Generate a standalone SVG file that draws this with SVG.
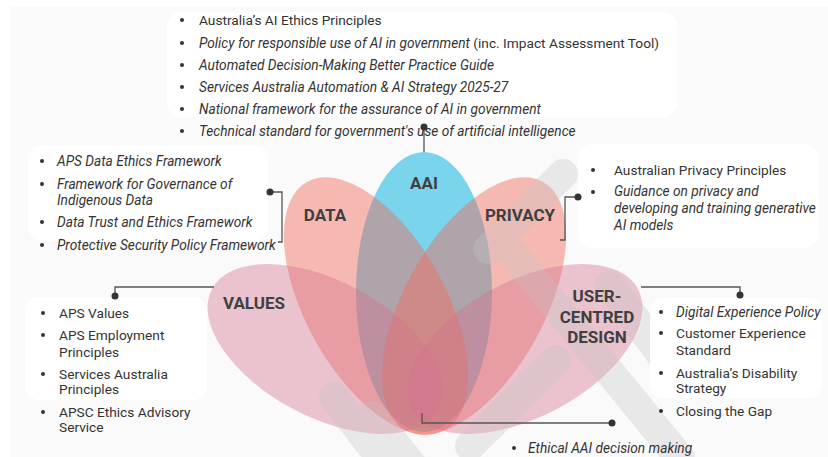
<svg xmlns="http://www.w3.org/2000/svg" width="828" height="457" viewBox="0 0 828 457">
  <style>
    .item { font-family: Roboto, "Liberation Sans", sans-serif; font-size: 13.7px; fill: #333333; }
    .it { font-style: italic; }
    .label { font-family: Roboto, "Liberation Sans", sans-serif; font-size: 17px; font-weight: bold; fill: #3f3f3f; text-anchor: middle; }
    .box { fill: #ffffff; }
    .wire { fill: none; stroke: #555555; stroke-width: 1.3; }
    .dot { fill: #333333; }
    .mark { fill: none; stroke: #c4c4c4; stroke-width: 30; stroke-linecap: round; }
  </style>
  <defs>
    <g id="bul"><circle r="2" cx="0" cy="0" fill="#333333"/></g>
  </defs>

  <!-- page -->
  <rect width="828" height="457" fill="#ffffff"/>
  <rect x="10" y="7" width="818" height="450" fill="#fafafa"/>

  <!-- petals -->
  <g id="petal-aai">
    <ellipse cx="424" cy="292" rx="68" ry="140" fill="#79d4ec"/>
  </g>
  <g id="petal-data">
    <ellipse cx="376" cy="306" rx="70" ry="142" transform="rotate(-29 376 306)" fill="#f26b5b" fill-opacity="0.45"/>
  </g>
  <g id="petal-privacy">
    <ellipse cx="474" cy="306" rx="70" ry="142" transform="rotate(29 474 306)" fill="#f26b5b" fill-opacity="0.45"/>
  </g>
  <g id="petal-values">
    <ellipse cx="325" cy="349" rx="128" ry="68" transform="rotate(28 325 349)" fill="#d4708e" fill-opacity="0.4"/>
  </g>
  <g id="petal-ucd">
    <ellipse cx="525" cy="349" rx="128" ry="68" transform="rotate(-28 525 349)" fill="#d4708e" fill-opacity="0.4"/>
  </g>

  <!-- translucent emblem strokes over the petals -->
  <g id="emblem" opacity="0.32">
    <line class="mark" x1="563" y1="174" x2="488" y2="249"/>
    <line class="mark" x1="500" y1="238" x2="680" y2="458"/>
    <line class="mark" x1="556" y1="360" x2="470" y2="446"/>
    <line class="mark" x1="334" y1="397" x2="390" y2="470"/>
    <line class="mark" x1="372" y1="416" x2="420" y2="475"/>
    <line class="mark" x1="610" y1="285" x2="680" y2="380"/>
  </g>

  <!-- text panels -->
  <rect class="box" x="167" y="12" width="510" height="105" rx="14"/>
  <rect class="box" x="28" y="145" width="240" height="96" rx="14"/>
  <rect class="box" x="578" y="144" width="240" height="104" rx="14"/>
  <rect class="box" x="25" y="297" width="182" height="103" rx="14"/>
  <rect class="box" x="650" y="298" width="172" height="100" rx="14"/>

  <!-- petal labels -->
  <text class="label" x="424" y="189">AAI</text>
  <text class="label" x="325" y="221">DATA</text>
  <text class="label" x="520" y="221">PRIVACY</text>
  <text class="label" x="254" y="309">VALUES</text>
  <text class="label" x="597" y="302">USER-</text>
  <text class="label" x="597" y="323">CENTRED</text>
  <text class="label" x="597" y="343">DESIGN</text>

  <!-- connectors -->
  <g id="connectors">
    <path class="wire" d="M424,127 V152"/>
    <circle class="dot" cx="424" cy="127" r="3.5"/>
    <path class="wire" d="M270,192 H282 V242 H278"/>
    <circle class="dot" cx="270" cy="192" r="3.5"/>
    <path class="wire" d="M578,197 H565 V240 H560"/>
    <circle class="dot" cx="578" cy="197" r="3.5"/>
    <path class="wire" d="M115,296 V287 H214"/>
    <circle class="dot" cx="115" cy="296" r="3.5"/>
    <path class="wire" d="M641,287 H740 V295"/>
    <circle class="dot" cx="740" cy="295" r="3.5"/>
    <path class="wire" d="M422,413 V423 H612"/>
    <circle class="dot" cx="612" cy="423" r="3.5"/>
  </g>

  <!-- AAI list -->
  <g id="list-aai">
    <use href="#bul" x="182" y="20"/>
    <text class="item" x="199" y="25">Australia’s AI Ethics Principles</text>
    <use href="#bul" x="182" y="43"/>
    <text class="item" x="199" y="48"><tspan class="it">Policy for responsible use of AI in government</tspan> (inc. Impact Assessment Tool)</text>
    <use href="#bul" x="182" y="65"/>
    <text class="item it" x="199" y="70">Automated Decision-Making Better Practice Guide</text>
    <use href="#bul" x="182" y="87"/>
    <text class="item it" x="199" y="92">Services Australia Automation &amp; AI Strategy 2025-27</text>
    <use href="#bul" x="182" y="109"/>
    <text class="item it" x="199" y="114">National framework for the assurance of AI in government</text>
    <use href="#bul" x="182" y="131"/>
    <text class="item it" x="199" y="136">Technical standard for government's use of artificial intelligence</text>
  </g>

  <!-- DATA list -->
  <g id="list-data">
    <use href="#bul" x="42" y="161"/>
    <text class="item it" x="57" y="166">APS Data Ethics Framework</text>
    <use href="#bul" x="42" y="184"/>
    <text class="item it" x="57" y="189">Framework for Governance of</text>
    <text class="item it" x="57" y="205">Indigenous Data</text>
    <use href="#bul" x="42" y="222"/>
    <text class="item it" x="57" y="227">Data Trust and Ethics Framework</text>
    <use href="#bul" x="42" y="245"/>
    <text class="item it" x="57" y="250">Protective Security Policy Framework</text>
  </g>

  <!-- PRIVACY list -->
  <g id="list-privacy">
    <use href="#bul" x="593" y="170"/>
    <text class="item" x="614" y="175">Australian Privacy Principles</text>
    <use href="#bul" x="593" y="192"/>
    <text class="item it" x="614" y="196">Guidance on privacy and</text>
    <text class="item it" x="614" y="213">developing and training generative</text>
    <text class="item it" x="614" y="230">AI models</text>
  </g>

  <!-- VALUES list -->
  <g id="list-values">
    <use href="#bul" x="43" y="313"/>
    <text class="item" x="59" y="318">APS Values</text>
    <use href="#bul" x="43" y="335"/>
    <text class="item" x="59" y="340">APS Employment</text>
    <text class="item" x="59" y="357">Principles</text>
    <use href="#bul" x="43" y="374"/>
    <text class="item" x="59" y="379">Services Australia</text>
    <text class="item" x="59" y="394">Principles</text>
    <use href="#bul" x="43" y="412"/>
    <text class="item" x="59" y="417">APSC Ethics Advisory</text>
    <text class="item" x="59" y="432">Service</text>
  </g>

  <!-- USER-CENTRED DESIGN list -->
  <g id="list-ucd">
    <use href="#bul" x="661" y="312"/>
    <text class="item it" x="676" y="317">Digital Experience Policy</text>
    <use href="#bul" x="661" y="333"/>
    <text class="item" x="676" y="338">Customer Experience</text>
    <text class="item" x="676" y="355">Standard</text>
    <use href="#bul" x="661" y="373"/>
    <text class="item" x="676" y="378">Australia’s Disability</text>
    <text class="item" x="676" y="393">Strategy</text>
    <use href="#bul" x="661" y="411"/>
    <text class="item" x="676" y="416">Closing the Gap</text>
  </g>

  <!-- shared outcome -->
  <g id="list-outcome">
    <use href="#bul" x="514" y="448"/>
    <text class="item it" x="528" y="453">Ethical AAI decision making</text>
  </g>
</svg>
